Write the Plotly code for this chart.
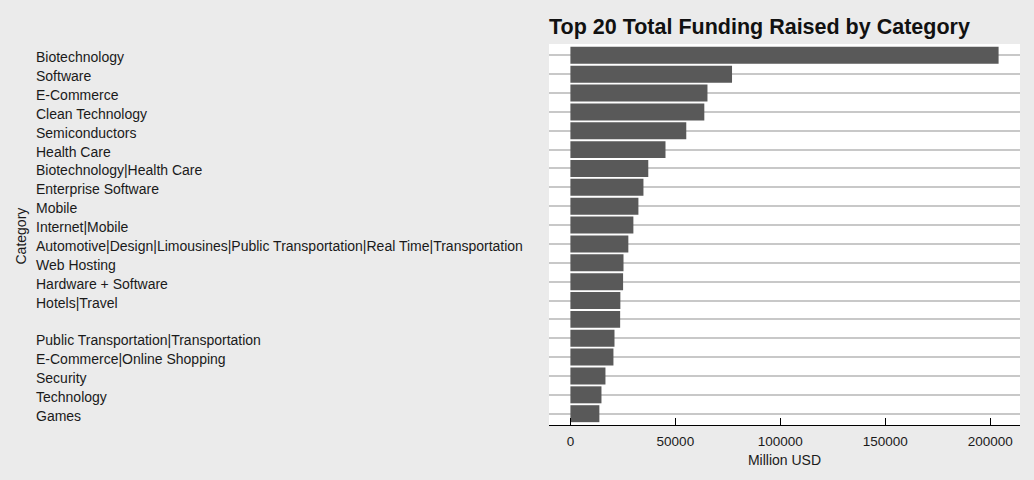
import plotly.graph_objects as go

# Top 20 categories by total funding
categories = [
    "Biotechnology",
    "Software",
    "E-Commerce",
    "Clean Technology",
    "Semiconductors",
    "Health Care",
    "Biotechnology|Health Care",
    "Enterprise Software",
    "Mobile",
    "Internet|Mobile",
    "Automotive|Design|Limousines|Public Transportation|Real Time|Transportation",
    "Web Hosting",
    "Hardware + Software",
    "Hotels|Travel",
    " ",
    "Public Transportation|Transportation",
    "E-Commerce|Online Shopping",
    "Security",
    "Technology",
    "Games",
]
funding_musd = [
    204000, 77000, 65300, 63800, 55200, 45300, 37100, 34800, 32400, 30000,
    27600, 25300, 25100, 23800, 23700, 21000, 20500, 16700, 14800, 13800,
]

W, H = 1034, 480
left, right, top, bottom = 549, 14, 44, 55
plot_w = W - left - right


def px_to_paper_x(px):
    return (px - left) / plot_w


fig = go.Figure(
    go.Bar(
        x=funding_musd,
        y=categories,
        orientation="h",
        marker=dict(color="#595959", line=dict(width=0)),
        width=0.9,
    )
)

# Left-aligned category labels, placed on the category axis
annotations = [
    dict(
        x=px_to_paper_x(34), xref="paper", xanchor="left",
        y=cat, yref="y", yanchor="middle", yshift=-2,
        text=cat, showarrow=False,
        font=dict(size=14, color="#1a1a1a"),
    )
    for cat in categories
]
annotations.append(
    dict(
        x=px_to_paper_x(20), xref="paper", xanchor="center",
        y=0.5, yref="paper", yanchor="middle", yshift=-2,
        text="Category", textangle=-90, showarrow=False,
        font=dict(size=14, color="#1a1a1a"),
    )
)

fig.update_layout(
    width=W,
    height=H,
    margin=dict(l=left, r=right, t=top, b=bottom),
    paper_bgcolor="#EBEBEB",
    plot_bgcolor="white",
    font=dict(family="Liberation Sans, Arial, sans-serif", size=14, color="#1a1a1a"),
    title=dict(
        text="<b>Top 20 Total Funding Raised by Category</b>",
        x=549 / W, xanchor="left", xref="container",
        y=1 - 26 / H, yanchor="middle", yref="container",
        font=dict(size=21.5, color="#111111"),
    ),
    showlegend=False,
    bargap=0.1,
    annotations=annotations,
)

fig.update_xaxes(
    range=[-10200, 214200],
    tickvals=[0, 50000, 100000, 150000, 200000],
    ticktext=["0", "50000", "100000", "150000", "200000"],
    showgrid=False,
    zeroline=False,
    showline=True,
    linecolor="black",
    linewidth=1.3,
    ticks="inside",
    ticklen=7,
    tickwidth=1.3,
    tickcolor="black",
    ticklabelstandoff=4,
    tickfont=dict(size=13.5, color="#1a1a1a"),
    title=dict(text="Million USD", standoff=6, font=dict(size=14, color="#1a1a1a")),
)
fig.update_yaxes(
    type="category",
    categoryorder="array",
    categoryarray=categories,
    range=[len(categories) - 0.4, -0.6],
    showticklabels=False,
    showgrid=True,
    gridcolor="#C8C8C8",
    gridwidth=1.5,
    zeroline=False,
    showline=False,
    ticks="",
)

# Drop the browser's default page margin so the figure fills the window
fig.write_html(
    "out.html",
    config={"displayModeBar": False},
    post_script="document.body.style.margin='0';document.body.style.overflow='hidden';",
)
